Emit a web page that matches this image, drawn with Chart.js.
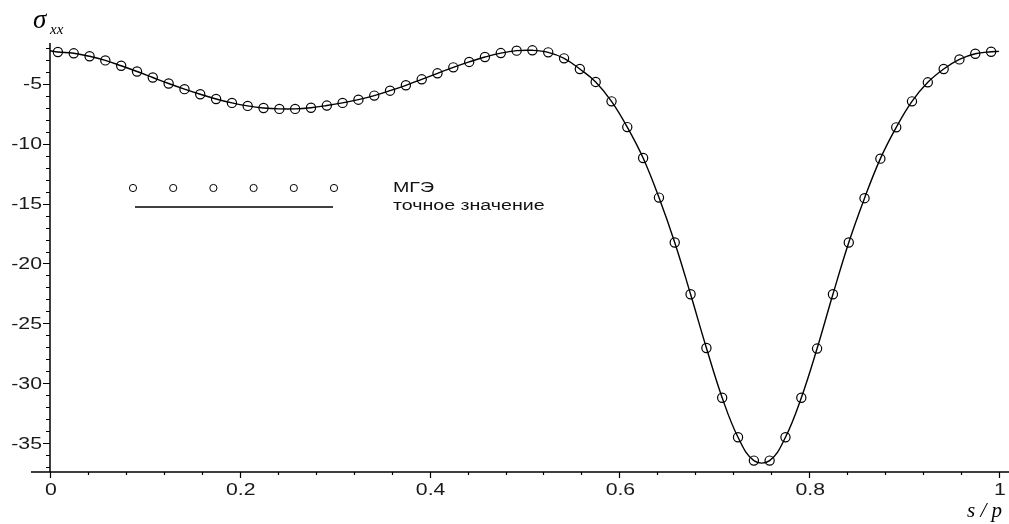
<!DOCTYPE html>
<html>
<head>
<meta charset="utf-8">
<script src="https://cdn.jsdelivr.net/npm/chart.js@4.4.1/dist/chart.umd.min.js"></script>
<style>
    html, body { margin: 0; padding: 0; background: #fff; overflow: hidden; }
    #chart-wrap { position: relative; width: 1009px; height: 524px; }
</style>
</head>
<body>
<div id="chart-wrap"><canvas id="stress-chart"></canvas></div>
<script>
/**
 * Stress sigma_xx along the contour, s/p
 * BEM (МГЭ) points against the exact solution
 */

// Element midpoints along the contour (s / p)
const sValues = [
    0.0083, 0.025, 0.0417, 0.0583, 0.075, 0.0917, 0.1083, 0.125, 0.1417, 0.1583, 0.175, 0.1917,
    0.2083, 0.225, 0.2417, 0.2583, 0.275, 0.2917, 0.3083, 0.325, 0.3417, 0.3583, 0.375, 0.3917,
    0.4083, 0.425, 0.4417, 0.4583, 0.475, 0.4917, 0.5083, 0.525, 0.5417, 0.5583, 0.575, 0.5917,
    0.6083, 0.625, 0.6417, 0.6583, 0.675, 0.6917, 0.7083, 0.725, 0.7417, 0.7583, 0.775, 0.7917,
    0.8083, 0.825, 0.8417, 0.8583, 0.875, 0.8917, 0.9083, 0.925, 0.9417, 0.9583, 0.975, 0.9917
];

// МГЭ values
const bemValues = [
    -2.35, -2.46, -2.71, -3.05, -3.50, -3.98, -4.48, -4.98, -5.45, -5.88, -6.27, -6.60,
    -6.85, -7.02, -7.10, -7.10, -7.00, -6.82, -6.60, -6.33, -5.99, -5.58, -5.13, -4.63,
    -4.13, -3.63, -3.18, -2.77, -2.44, -2.24, -2.21, -2.38, -2.88, -3.77, -4.85, -6.47,
    -8.62, -11.20, -14.50, -18.25, -22.57, -27.05, -31.20, -34.50, -36.45, -36.45, -34.50, -31.20,
    -27.10, -22.57, -18.25, -14.55, -11.25, -8.64, -6.47, -4.88, -3.77, -2.97, -2.50, -2.33
];

// Exact curve: ends at s = 0 and s = 1, the rest follows the element points
const exactEndS = [0, 1];
const exactEndValues = [-2.25, -2.3];

// Axis ticks
const xTickLabels = [0, 0.2, 0.4, 0.6, 0.8, 1];
const yTickLabels = [-35, -30, -25, -20, -15, -10, -5];
const xMinorStep = 0.04;
const yMinorStep = 1;

const legendLabels = ['МГЭ', 'точное значение'];

let stressChart;

/**
 * Draw text squeezed/stretched horizontally (the original uses a wide bitmap font)
 */
function fillStretched(ctx, text, x, y, align, sx) {
    const w = ctx.measureText(text).width * sx;
    let left = x;
    if (align === 'right') left = x - w;
    else if (align === 'center') left = x - w / 2;
    ctx.save();
    ctx.translate(left, y);
    ctx.scale(sx, 1);
    ctx.textAlign = 'left';
    ctx.fillText(text, 0, 0);
    ctx.restore();
}

/**
 * Axes, tick marks, labels, axis titles and the legend, drawn Maple-style
 */
const maplePlotFrame = {
    id: 'maplePlotFrame',
    afterDraw(chart) {
        const ctx = chart.ctx;
        const area = chart.chartArea;
        const xs = chart.scales.x;
        const ys = chart.scales.y;
        const x0 = xs.getPixelForValue(0);
        const yb = area.bottom;

        ctx.save();
        ctx.strokeStyle = '#000';
        ctx.lineWidth = 1.5;

        // axis lines
        ctx.beginPath();
        ctx.moveTo(x0, area.top);
        ctx.lineTo(x0, yb);
        ctx.moveTo(x0 - 19, yb);
        ctx.lineTo(chart.width, yb);
        ctx.stroke();

        // y tick marks
        ctx.lineWidth = 1.2;
        ctx.beginPath();
        for (let v = Math.ceil(ys.min / yMinorStep) * yMinorStep; v <= ys.max; v += yMinorStep) {
            const py = Math.round(ys.getPixelForValue(v)) + 0.5;
            const major = Math.abs(v % 5) < 1e-6;
            ctx.moveTo(x0 - (major ? 7 : 4), py);
            ctx.lineTo(x0, py);
        }
        // x tick marks
        for (let i = 0; i * xMinorStep <= xs.max + 1e-9; i++) {
            const v = i * xMinorStep;
            const px = Math.round(xs.getPixelForValue(v)) + 0.5;
            const major = i % 5 === 0;
            ctx.moveTo(px, yb);
            ctx.lineTo(px, yb + (major ? 6 : 3));
        }
        ctx.stroke();

        // tick labels
        ctx.fillStyle = '#1a1a1a';
        ctx.font = "17px 'Liberation Sans'";
        ctx.textBaseline = 'middle';
        yTickLabels.forEach(v => {
            fillStretched(ctx, String(v), x0 - 8, ys.getPixelForValue(v) + 1, 'right', 1.25);
        });
        xTickLabels.forEach(v => {
            fillStretched(ctx, String(v), xs.getPixelForValue(v) + 1, yb + 18, 'center', 1.25);
        });

        // axis titles
        ctx.fillStyle = '#000';
        ctx.textBaseline = 'alphabetic';
        ctx.textAlign = 'left';
        ctx.font = "italic 27px 'Liberation Serif'";
        ctx.fillText('σ', 33, 28);
        ctx.font = "italic 15px 'Liberation Serif'";
        ctx.fillText('xx', 50, 34);
        ctx.font = "italic 21px 'Liberation Serif'";
        ctx.fillText('s / p', 967, 517);

        // legend
        const lx = area.left + 83;
        const ly = area.top + 145;
        ctx.lineWidth = 1;
        for (let i = 0; i < 6; i++) {
            ctx.beginPath();
            ctx.arc(lx + i * 40.2, ly, 3.6, 0, Math.PI * 2);
            ctx.stroke();
        }
        ctx.lineWidth = 1.5;
        ctx.beginPath();
        ctx.moveTo(lx + 2, ly + 19);
        ctx.lineTo(lx + 200, ly + 19);
        ctx.stroke();

        ctx.fillStyle = '#111';
        ctx.font = "14px 'Liberation Sans'";
        ctx.textBaseline = 'middle';
        fillStretched(ctx, legendLabels[0], lx + 260, ly, 'left', 1.4);
        fillStretched(ctx, legendLabels[1], lx + 260, ly + 18, 'left', 1.4);
        ctx.restore();
    }
};

/**
 * Build the chart
 */
function initStressChart() {
    const ctx = document.getElementById('stress-chart').getContext('2d');

    const bemPoints = sValues.map((s, i) => ({ x: s, y: bemValues[i] }));
    const exactPoints = [{ x: exactEndS[0], y: exactEndValues[0] }]
        .concat(bemPoints)
        .concat([{ x: exactEndS[1], y: exactEndValues[1] }]);

    stressChart = new Chart(ctx, {
        type: 'line',
        data: {
            datasets: [
                {
                    label: legendLabels[0],
                    data: bemPoints,
                    showLine: false,
                    pointStyle: 'circle',
                    pointRadius: 4.6,
                    pointBorderWidth: 1.2,
                    pointBorderColor: '#000',
                    pointBackgroundColor: 'rgba(0,0,0,0)',
                    order: 0
                },
                {
                    label: legendLabels[1],
                    data: exactPoints,
                    borderColor: '#000',
                    borderWidth: 1.4,
                    tension: 0.4,
                    pointRadius: 0,
                    fill: false,
                    order: 1
                }
            ]
        },
        options: {
            responsive: true,
            maintainAspectRatio: false,
            animation: false,
            layout: {
                padding: { left: 0, right: 10, top: 43, bottom: 22 }
            },
            plugins: {
                legend: { display: false },
                tooltip: { enabled: false }
            },
            scales: {
                x: {
                    type: 'linear',
                    min: 0,
                    max: 1,
                    afterFit: function(scale) { scale.height = 30; },
                    afterBuildTicks: function(scale) {
                        scale.ticks = xTickLabels.map(v => ({ value: v }));
                    },
                    grid: { display: false },
                    border: { display: false },
                    ticks: { display: false }
                },
                y: {
                    type: 'linear',
                    min: -37.4,
                    max: -1.6,
                    afterFit: function(scale) { scale.width = 50; },
                    afterBuildTicks: function(scale) {
                        scale.ticks = yTickLabels.map(v => ({ value: v }));
                    },
                    grid: { display: false },
                    border: { display: false },
                    ticks: { display: false }
                }
            }
        },
        plugins: [maplePlotFrame]
    });
}

initStressChart();
</script>
</body>
</html>
